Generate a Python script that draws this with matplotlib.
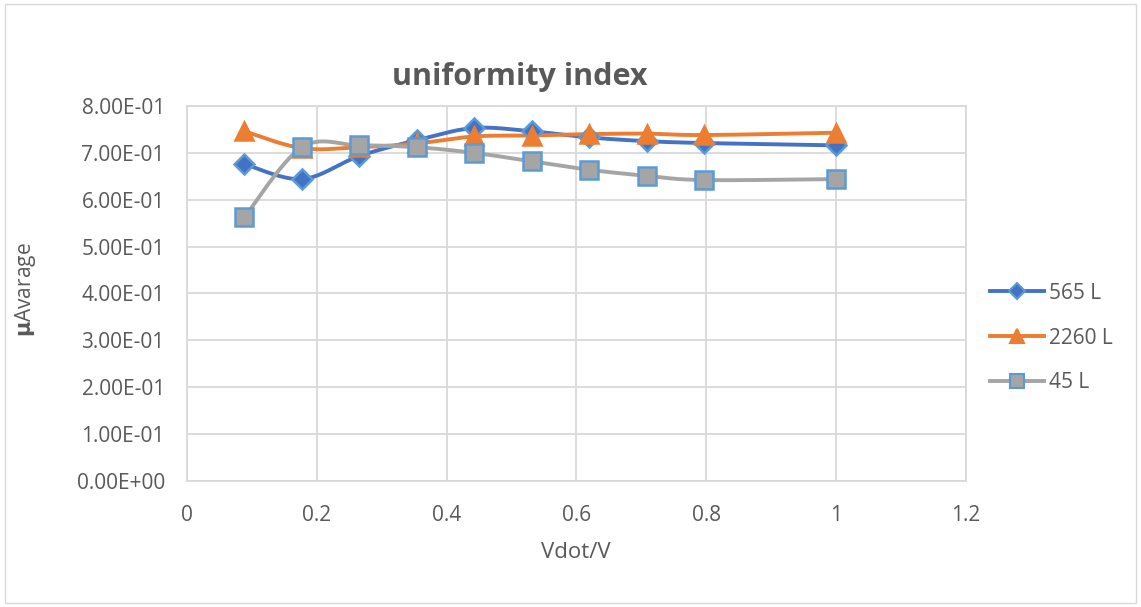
import numpy as np
import matplotlib
matplotlib.use("Agg")
import matplotlib.pyplot as plt
from matplotlib.ticker import FuncFormatter, MultipleLocator

plt.rcParams['font.family'] = ['Open Sans', 'DejaVu Sans']

# 流量比 Vdot/V
vdot = [0.0885, 0.177, 0.265, 0.354, 0.442, 0.531, 0.619, 0.708, 0.796, 1.0]

# 三种容积下的均匀性指数
mu_565 = [0.676, 0.644, 0.693, 0.727, 0.753, 0.746, 0.733, 0.725, 0.721, 0.716]
mu_2260 = [0.746, 0.710, 0.712, 0.720, 0.735, 0.737, 0.740, 0.741, 0.738, 0.743]
mu_45 = [0.563, 0.712, 0.716, 0.712, 0.700, 0.682, 0.664, 0.651, 0.642, 0.644]

labels = ['565 L', '2260 L', '45 L']


def smooth(x, y, n=30):
    # Bezier 平滑曲线（类似 Excel 的平滑线）
    x = np.asarray(x, float)
    y = np.asarray(y, float)
    px = np.concatenate([[x[0]], x, [x[-1]]])
    py = np.concatenate([[y[0]], y, [y[-1]]])
    xs, ys = [], []
    t = np.linspace(0, 1, n)
    for i in range(1, len(x)):
        p0 = np.array([px[i], py[i]])
        p3 = np.array([px[i + 1], py[i + 1]])
        c1 = p0 + (p3 - np.array([px[i - 1], py[i - 1]])) / 6
        c2 = p3 - (np.array([px[i + 2], py[i + 2]]) - p0) / 6
        b = (np.outer((1 - t) ** 3, p0) + np.outer(3 * (1 - t) ** 2 * t, c1)
             + np.outer(3 * (1 - t) * t ** 2, c2) + np.outer(t ** 3, p3))
        xs.append(b[:, 0])
        ys.append(b[:, 1])
    return np.concatenate(xs), np.concatenate(ys)


W, H = 1141, 607
fig = plt.figure(figsize=(W / 100, H / 100), dpi=100)
fig.patches.append(plt.Rectangle((0.004, 0.006), 0.992, 0.988, transform=fig.transFigure,
                                 fill=False, edgecolor='#d9d9d9', linewidth=1))
ax = fig.add_axes([0.1639, 0.2076, 0.6827, 0.6178])

series = [
    (mu_565, '#4472C4', 'D', '#4472C4', '#5B9BD5', 10),
    (mu_2260, '#ED7D31', '^', '#ED7D31', '#ED7D31', 13),
    (mu_45, '#A5A5A5', 's', '#A5A5A5', '#5B9BD5', 12.5),
]
handles = []
for (ys, c, m, fc, ec, ms), lab in zip(series, labels):
    sx, sy = smooth(vdot, ys)
    ax.plot(sx, sy, color=c, lw=2.8, zorder=2, solid_capstyle='round')
    ax.plot(vdot, ys, ls='none', marker=m, ms=ms, mfc=fc, mec=ec, mew=1.8, zorder=3)
    h, = ax.plot([], [], color=c, lw=2.8, marker=m, ms=ms * 0.8, mfc=fc, mec=ec, mew=1.5)
    handles.append(h)

ax.set_xlim(0, 1.2)
ax.set_ylim(0, 0.8)
ax.xaxis.set_major_locator(MultipleLocator(0.2))
ax.yaxis.set_major_locator(MultipleLocator(0.1))
ax.xaxis.set_major_formatter(FuncFormatter(lambda v, p: '%g' % round(v, 2)))
ax.yaxis.set_major_formatter(FuncFormatter(lambda v, p: '%.2E' % v))
ax.grid(True, color='#d9d9d9', lw=1.3)
ax.set_axisbelow(True)
for s in ax.spines.values():
    s.set_color('#d9d9d9')
    s.set_linewidth(1.3)
ax.tick_params(length=0, labelsize=15, labelcolor='#595959')
ax.tick_params(axis='y', pad=16)
ax.tick_params(axis='x', pad=17)

fig.text(520 / W, 1 - 85 / H, 'uniformity index', fontsize=22, fontweight='bold',
         color='#595959', ha='center', va='baseline')
fig.text(576 / W, 1 - 553 / H, 'Vdot/V', fontsize=16, color='#595959',
         ha='center', va='center')
fig.text(26 / W, 1 - 290 / H, r'$\mathbf{\mu}$Avarage', fontsize=15, color='#595959',
         ha='center', va='center', rotation=90)

fig.legend(handles=handles, labels=labels, loc='center left',
           bbox_to_anchor=(990 / W, 1 - 338 / H), borderaxespad=0, borderpad=0,
           frameon=False, fontsize=15, labelcolor='#595959', handlelength=2.6,
           labelspacing=1.15, handletextpad=0.25)

fig.savefig('out.png', dpi=100)
